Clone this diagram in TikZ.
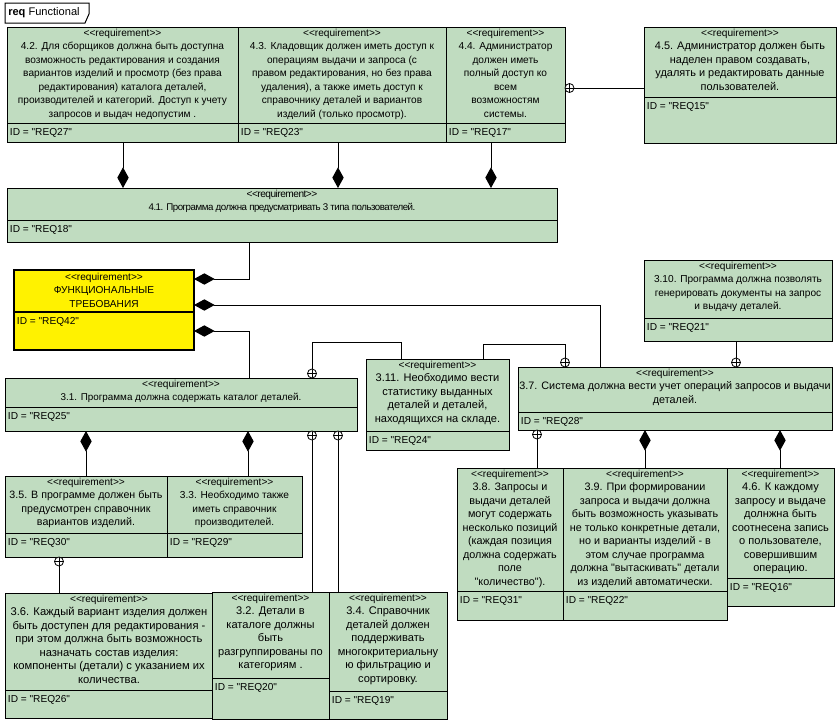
\documentclass[tikz,border=0pt]{standalone}
\usepackage{fontspec}
\setmainfont{Liberation Sans}[Ligatures=TeXOff]
\usetikzlibrary{arrows.meta}
\definecolor{reqgreen}{RGB}{192,220,192}
\newcommand\fs[1]{\fontsize{#1}{10.1}\selectfont}
\newcommand\Stereo{{\fs{7.6}<<requirement>>}}
% #1 name, #2 style, #3 x1, #4 y1, #5 x2, #6 y2, #7 divider y, #8 text, #9 id
\newcommand\ReqBox[9]{%
  \node[#2, minimum width={(#5-#3)*0.75pt}, minimum height={(#6-#4)*0.75pt}, inner sep=0pt, outer sep=0pt] (#1) at ({(#3+#5)/2},{(#4+#6)/2}) {};
  \draw[#2, fill=none] (#3,#7) -- (#5,#7);
  \node[txt, #2, draw=none, fill=none, anchor=north] at ({(#3+#5)/2},{#4+1}) {\Stereo\\#8};
  \node[txt, draw=none, fill=none, anchor=west, align=left] at ({#3+2},{#7+10}) {ID = "#9"};
}
\tikzset{
  gbox/.style={draw, fill=reqgreen, line width=0.75pt},
  ybox/.style={draw, fill=yellow, line width=1.6pt},
  txt/.style={font=\fs{7.6}, align=center, inner sep=0.5pt, text=black},
  conn/.style={draw, line width=0.75pt},
  comp/.style={conn, -{Diamond[length=15.5pt, width=8.5pt]}},
  cplus/.style={circle, draw, fill=white, minimum size=6.75pt, inner sep=0pt, outer sep=0pt, line width=0.6pt,
    path picture={\draw[line width=0.6pt] (path picture bounding box.north) -- (path picture bounding box.south)
      (path picture bounding box.west) -- (path picture bounding box.east);}},
}
\begin{document}
\begin{tikzpicture}[x=0.75pt, y=-0.75pt]
\useasboundingbox (0,0) rectangle (840,725);
\fill[white] (0,0) rectangle (840,725);
% frame tab
\draw[line width=0.75pt] (5,3) -- (89,3) -- (89,14) -- (85,23) -- (5,23) -- cycle;
\node[anchor=west, font=\fs{8.3}, inner sep=0pt] (tab) at (8,13) {\textbf{req} Functional};

% top row
\ReqBox{r27}{gbox}{7}{27}{238}{142}{123}{4.2. Для сборщиков должна быть доступна\\возможность редактирования и создания\\вариантов изделий и просмотр (без права\\редактирования) каталога деталей,\\производителей и категорий. Доступ к учету\\запросов и выдач недопустим .}{REQ27}
\ReqBox{r23}{gbox}{238}{27}{446}{142}{123}{4.3. Кладовщик должен иметь доступ к\\операциям выдачи и запроса (с\\правом редактирования, но без права\\удаления), а также иметь доступ к\\справочнику деталей и вариантов\\изделий (только просмотр).}{REQ23}
\ReqBox{r17}{gbox}{446}{27}{565}{142}{123}{4.4. Администратор\\должен иметь\\полный доступ ко\\всем\\возможностям\\системы.}{REQ17}
\ReqBox{r15}{gbox, font=\fs{8.2}}{644}{27}{836}{143}{97}{4.5. Администратор должен быть\\наделен правом создавать,\\удалять и редактировать данные\\пользователей.}{REQ15}

\ReqBox{r18}{gbox, font=\fs{7.3}\addfontfeatures{LetterSpace=-5}}{7}{188}{557}{242}{220}{4.1. Программа должна предусматривать 3 типа пользователей.}{REQ18}

\ReqBox{r42}{ybox}{14}{270}{194}{350}{312}{ФУНКЦИОНАЛЬНЫЕ\\ТРЕБОВАНИЯ}{REQ42}

\ReqBox{r21}{gbox}{644}{260}{832}{341}{318}{3.10. Программа должна позволять\\генерировать документы на запрос\\и выдачу деталей.}{REQ21}

\ReqBox{r25}{gbox, font=\fs{7.4}}{5}{378}{357}{431}{407}{3.1. Программа должна содержать каталог деталей.}{REQ25}
\ReqBox{r24}{gbox, font=\fs{8.3}}{366}{359}{509}{450}{431}{3.11. Необходимо вести\\статистику выданных\\деталей и деталей,\\находящихся на складе.}{REQ24}
\ReqBox{r28}{gbox, font=\fs{8.1}}{518}{367}{832}{430}{412}{3.7. Система должна вести учет операций запросов и выдачи\\деталей.}{REQ28}

\ReqBox{r30}{gbox, font=\fs{8.0}}{5}{476}{167}{557}{533}{3.5. В программе должен быть\\предусмотрен справочник\\вариантов изделий.}{REQ30}
\ReqBox{r29}{gbox}{167}{476}{302}{557}{533}{3.3. Необходимо также\\иметь справочник\\производителей.}{REQ29}

\ReqBox{r31}{gbox, font=\fs{8.1}}{457}{468}{563}{620}{591}{3.8. Запросы и\\выдачи деталей\\могут содержать\\несколько позиций\\(каждая позиция\\должна содержать\\поле\\"количество").}{REQ31}
\ReqBox{r22}{gbox, font=\fs{8.1}}{563}{468}{727}{620}{591}{3.9. При формировании\\запроса и выдачи должна\\быть возможность указывать\\не только конкретные детали,\\но и варианты изделий - в\\этом случае программа\\должна "вытаскивать" детали\\из изделий автоматически.}{REQ22}
\ReqBox{r16}{gbox, font=\fs{8.3}}{727}{468}{834}{606}{578}{4.6. К каждому\\запросу и выдаче\\долнжна быть\\соотнесена запись\\о пользователе,\\совершившим\\операцию.}{REQ16}

\ReqBox{r26}{gbox, font=\fs{8.4}}{5}{593}{213}{718}{690}{3.6. Каждый вариант изделия должен\\быть доступен для редактирования -\\при этом должна быть возможность\\назначать состав изделия:\\компоненты (детали) с указанием их\\количества.}{REQ26}
\ReqBox{r20}{gbox, font=\fs{8.3}}{212}{592}{329}{719}{678}{3.2. Детали в\\каталоге должны\\быть\\разгруппированы по\\категориям .}{REQ20}
\ReqBox{r19}{gbox, font=\fs{8.3}}{329}{592}{447}{719}{691}{3.4. Справочник\\деталей должен\\поддерживать\\многокритериальну\\ю фильтрацию и\\сортировку.}{REQ19}

% circles (containment)
\node[cplus, anchor=west] (c1) at (r17.east |- 0,88) {};
\node[cplus, anchor=south] (c2) at (r25.north -| 312,0) {};
\node[cplus, anchor=south] (c3) at (r28.north -| 565,0) {};
\node[cplus, anchor=south] (c4) at (r28.north -| 736,0) {};
\node[cplus, anchor=north] (c5) at (r25.south -| 312,0) {};
\node[cplus, anchor=north] (c6) at (r25.south -| 338,0) {};
\node[cplus, anchor=north] (c7) at (r30.south -| 59,0) {};
\node[cplus, anchor=north] (c8) at (r28.south -| 537,0) {};

% composition connectors
\draw[comp] (r27.south -| 123,0) -- (r18.north -| 123,0);
\draw[comp] (r23.south -| 338,0) -- (r18.north -| 338,0);
\draw[comp] (r17.south -| 491,0) -- (r18.north -| 491,0);
\draw[comp] (r18.south -| 249,0) |- (r42.east |- 0,279);
\draw[comp] (r28.north -| 600,0) |- (r42.east |- 0,305);
\draw[comp] (r25.north -| 249,0) |- (r42.east |- 0,331);
\draw[comp] (r30.north -| 86,0) -- (r25.south -| 86,0);
\draw[comp] (r29.north -| 248,0) -- (r25.south -| 248,0);
\draw[comp] (r22.north -| 645,0) -- (r28.south -| 645,0);
\draw[comp] (r16.north -| 780,0) -- (r28.south -| 780,0);

% containment connectors
\draw[conn] (c1) -- (r15.west |- c1);
\draw[conn] (c2) -- (312,342) -| (r24.north -| 401,0);
\draw[conn] (c3) -- (565,344) -| (r24.north -| 483,0);
\draw[conn] (c4) -- (r21.south -| c4);
\draw[conn] (c5) -- (r20.north -| c5);
\draw[conn] (c6) -- (r19.north -| c6);
\draw[conn] (c7) -- (r26.north -| c7);
\draw[conn] (c8) -- (r31.north -| c8);
\end{tikzpicture}
\end{document}
